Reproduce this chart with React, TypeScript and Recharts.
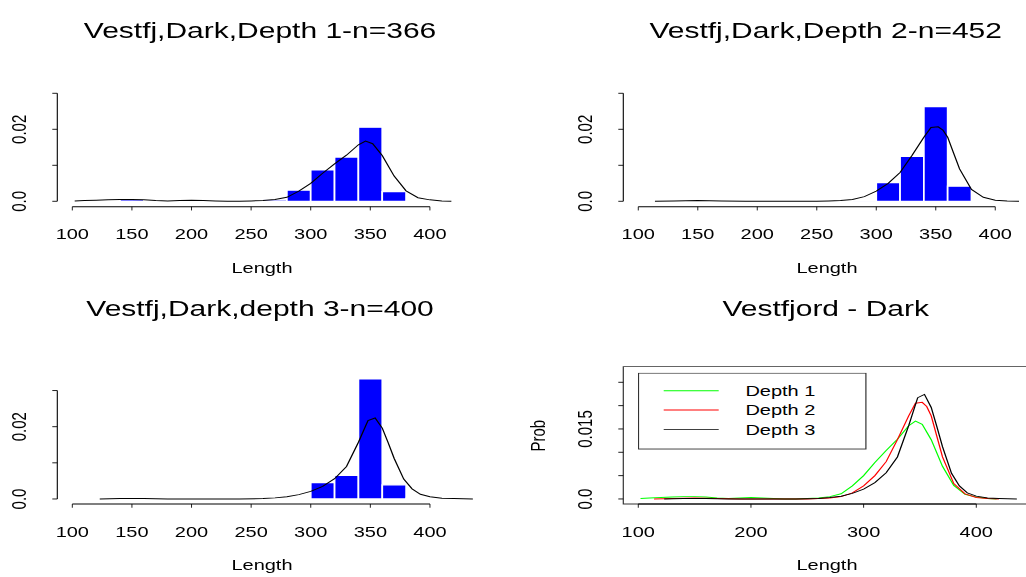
import React from "react";
import {
  ComposedChart,
  Line,
  XAxis,
  YAxis,
  ReferenceArea,
  ReferenceLine,
  Legend,
} from "recharts";

const FONT = '"Liberation Sans", Arial, Helvetica, sans-serif';

// ---------- data ----------
// histogram bins: left edges (width 20) and density per bin
const binStarts = [100, 120, 140, 160, 180, 200, 220, 240, 260, 280, 300, 320, 340, 360, 380];
const binWidth = 20;
const histDepth1 = [0, 0, 0.0005, 0, 0, 0, 0, 0, 0.0004, 0.0031, 0.0087, 0.0123, 0.0206, 0.0027, 0];
const histDepth2 = [0, 0, 0, 0, 0, 0, 0, 0, 0, 0.0003, 0.0052, 0.0125, 0.0263, 0.0042, 0];
const histDepth3 = [0, 0, 0, 0, 0, 0, 0, 0, 0.0002, 0.0002, 0.0045, 0.0065, 0.0332, 0.0039, 0.0002];

// kernel density estimates of length
const densLen1 = [102, 110, 120, 130, 140, 150, 160, 170, 180, 190, 200, 210, 220, 230, 240, 250, 260, 270, 280, 290, 300, 310, 320, 330, 340, 346, 352, 360, 370, 380, 390, 400, 410, 418];
const densVal1 = [0.0001, 0.0002, 0.0003, 0.0004, 0.0005, 0.0005, 0.0004, 0.0002, 0.0001, 0.0002, 0.0003, 0.0002, 0.0001, 0, 0, 0.0001, 0.0002, 0.0005, 0.0011, 0.0028, 0.005, 0.0078, 0.0104, 0.0128, 0.0157, 0.0167, 0.016, 0.0127, 0.007, 0.0029, 0.001, 0.0004, 0.0001, 0];

const densLen2 = [114, 130, 150, 170, 190, 210, 230, 250, 260, 270, 280, 290, 300, 310, 320, 330, 340, 346, 352, 356, 360, 365, 370, 380, 390, 400, 410, 420];
const densVal2 = [0, 0.0001, 0.0002, 0.0001, 0, 0, 0, 0, 0.0001, 0.0002, 0.0005, 0.0013, 0.0028, 0.005, 0.008, 0.0127, 0.0178, 0.0205, 0.0207, 0.0198, 0.0178, 0.0134, 0.009, 0.0033, 0.0011, 0.0003, 0.0001, 0];

const densLen3 = [123, 140, 160, 180, 200, 220, 240, 260, 270, 280, 290, 300, 310, 320, 330, 340, 348, 354, 360, 365, 370, 378, 385, 392, 400, 410, 420, 436];
const densVal3 = [0, 0.0001, 0.0001, 0, 0, 0, 0, 0.0001, 0.0003, 0.0006, 0.0012, 0.0021, 0.0035, 0.0056, 0.009, 0.0157, 0.0217, 0.0224, 0.0196, 0.0155, 0.0112, 0.0055, 0.0028, 0.0013, 0.0006, 0.0002, 0.0001, 0];

// axes
const lengthTicks = [100, 150, 200, 250, 300, 350, 400];
const lengthTicksWide = [100, 200, 300, 400];
const histTicks = [0, 0.01, 0.02, 0.03];
const histTickText = ["0.0", "", "0.02", ""];
const probTicks = [0, 0.005, 0.01, 0.015, 0.02, 0.025];
const probTickText = ["0.0", "", "", "0.015", "", ""];

const titles = [
  "Vestfj,Dark,Depth 1-n=366",
  "Vestfj,Dark,Depth 2-n=452",
  "Vestfj,Dark,depth 3-n=400",
  "Vestfjord - Dark",
];
const depthNames = ["Depth 1", "Depth 2", "Depth 3"];
const depthColors = ["#00ff00", "#ff0000", "#000000"];

// ---------- layout (drawn in an unsquashed 4:3 canvas, then scaled vertically) ----------
const SQUASH = 0.75;
const CW = 1040;
const CH = 577 / SQUASH;
const AXW = 50;
const AXH = 50;
const TICK = 5;

type Rect = { left: number; right: number; top: number; bottom: number };
type Spec = { plot: Rect; x: [number, number]; y: [number, number] };

const p1: Spec = { plot: { left: 57.3, right: 462.8, top: 81.2, bottom: 275.6 }, x: [87.4, 427.6], y: [-0.0015, 0.039] };
const p2: Spec = { plot: { left: 623.3, right: 1028.1, top: 81.2, bottom: 275.6 }, x: [87.4, 427.6], y: [-0.0015, 0.039] };
const p3: Spec = { plot: { left: 57.3, right: 484.8, top: 491.8, bottom: 672 }, x: [87.4, 446], y: [-0.00139, 0.036] };
const p4: Spec = { plot: { left: 623.3, right: 1027, top: 488.9, bottom: 672 }, x: [86.7, 445], y: [-0.00108, 0.02835] };

const centerX = (s: Spec) => (s.plot.left + s.plot.right) / 2;

const marginOf = (r: Rect) => ({
  left: r.left - AXW,
  right: CW - r.right,
  top: r.top,
  bottom: CH - r.bottom - AXH,
});

const toCurve = (len: number[], val: number[]) => len.map((l, i) => ({ len: l, dens: val[i] }));

const XTickLabel = (props: any) => {
  const { x, y, payload } = props;
  // label baseline sits 43.5px under the axis line
  return (
    <text x={x} y={y - TICK + 43.5} textAnchor="middle" fontSize={20} fontFamily={FONT} fill="#000">
      {payload.value}
    </text>
  );
};

const makeYTick = (ticks: number[], texts: string[]) => (props: any) => {
  const { x, y, payload } = props;
  const idx = ticks.findIndex((t) => Math.abs(t - payload.value) < 1e-9);
  const label = idx >= 0 ? texts[idx] : "";
  if (!label) return <g />;
  const bx = x + TICK - 31;
  return (
    <text
      x={bx}
      y={y}
      transform={`rotate(-90 ${bx} ${y})`}
      textAnchor="middle"
      fontSize={20}
      fontFamily={FONT}
      fill="#000"
    >
      {label}
    </text>
  );
};

const axisProps = { tickLine: { stroke: "#000", strokeWidth: 1 }, tickSize: TICK, tickMargin: 0, axisLine: false };

function HistPanel({ spec, hist, curve }: { spec: Spec; hist: number[]; curve: { len: number; dens: number }[] }) {
  return (
    <div style={{ position: "absolute", left: 0, top: 0 }}>
      <ComposedChart width={CW} height={CH} margin={marginOf(spec.plot)}>
        <XAxis
          type="number"
          dataKey="len"
          domain={spec.x}
          allowDataOverflow
          ticks={lengthTicks}
          interval={0}
          height={AXH}
          tick={XTickLabel}
          {...axisProps}
        />
        <YAxis
          type="number"
          domain={spec.y}
          allowDataOverflow
          ticks={histTicks}
          interval={0}
          width={AXW}
          tick={makeYTick(histTicks, histTickText)}
          {...axisProps}
        />
        {binStarts.map((b, i) =>
          hist[i] > 0 ? (
            <ReferenceArea
              key={b}
              x1={b}
              x2={b + binWidth}
              y1={0}
              y2={hist[i]}
              fill="#0000ff"
              fillOpacity={1}
              stroke="#ffffff"
              strokeWidth={1.7}
              ifOverflow="visible"
            />
          ) : null
        )}
        <ReferenceLine
          segment={[{ x: spec.x[0], y: 0 }, { x: spec.x[0], y: 0.03 }]}
          stroke="#000"
          strokeWidth={1.1}
          ifOverflow="visible"
        />
        <ReferenceLine
          segment={[{ x: 100, y: spec.y[0] }, { x: 400, y: spec.y[0] }]}
          stroke="#000"
          strokeWidth={1.2}
          ifOverflow="visible"
        />
        <Line
          data={curve}
          dataKey="dens"
          type="linear"
          stroke="#000"
          strokeWidth={1.3}
          dot={false}
          isAnimationActive={false}
        />
      </ComposedChart>
    </div>
  );
}

const LegendBox = (props: any) => {
  const items = props.payload || [];
  return (
    <svg width={229} height={103} style={{ display: "block" }}>
      <rect x={0.5} y={0.5} width={227.4} height={101.2} fill="#fff" stroke="#333" strokeWidth={1.2} />
      {items.map((it: any, i: number) => {
        const cy = 24 + i * 25.75;
        return (
          <g key={it.value}>
            <line x1={25.7} x2={80.7} y1={cy} y2={cy} stroke={it.color} strokeWidth={1.3} />
            <text x={107.4} y={cy + 7.2} fontSize={20} fontFamily={FONT} fill="#000">
              {it.value}
            </text>
          </g>
        );
      })}
    </svg>
  );
};

function ComparePanel() {
  const curves = [toCurve(densLen1, densVal1), toCurve(densLen2, densVal2), toCurve(densLen3, densVal3)];
  return (
    <div style={{ position: "absolute", left: 0, top: 0 }}>
      <ComposedChart width={CW} height={CH} margin={marginOf(p4.plot)}>
        <XAxis
          type="number"
          dataKey="len"
          domain={p4.x}
          allowDataOverflow
          ticks={lengthTicksWide}
          interval={0}
          height={AXH}
          tick={XTickLabel}
          {...axisProps}
        />
        <YAxis
          type="number"
          domain={p4.y}
          allowDataOverflow
          ticks={probTicks}
          interval={0}
          width={AXW}
          tick={makeYTick(probTicks, probTickText)}
          {...axisProps}
        />
        <ReferenceArea
          x1={p4.x[0]}
          x2={p4.x[1]}
          y1={p4.y[0]}
          y2={p4.y[1]}
          fill="none"
          stroke="#333"
          strokeWidth={1.2}
          ifOverflow="visible"
        />
        <ReferenceLine
          segment={[{ x: 100, y: p4.y[0] }, { x: 400, y: p4.y[0] }]}
          stroke="#000"
          strokeWidth={1.3}
          ifOverflow="visible"
        />
        {curves.map((c, i) => (
          <Line
            key={depthNames[i]}
            name={depthNames[i]}
            data={c}
            dataKey="dens"
            type="linear"
            stroke={depthColors[i]}
            strokeWidth={1.3}
            dot={false}
            isAnimationActive={false}
          />
        ))}
        <Legend
          layout="horizontal"
          verticalAlign="middle"
          align="center"
          content={LegendBox}
          wrapperStyle={{ left: 638.3, top: 496.9, width: 229, height: 103, bottom: "auto", right: "auto" }}
        />
      </ComposedChart>
    </div>
  );
}

const txt = { fontFamily: FONT, fill: "#000" } as const;
const TITLE_SIZE = 30;

export default function App() {
  return (
    <div
      style={{
        position: "absolute",
        left: 0,
        top: 0,
        width: 1026,
        height: 577,
        overflow: "hidden",
        background: "#fff",
      }}
    >
      <div
        style={{
          position: "relative",
          width: CW,
          height: CH,
          transform: `scale(1, ${SQUASH})`,
          transformOrigin: "0 0",
        }}
      >
        <HistPanel spec={p1} hist={histDepth1} curve={toCurve(densLen1, densVal1)} />
        <HistPanel spec={p2} hist={histDepth2} curve={toCurve(densLen2, densVal2)} />
        <HistPanel spec={p3} hist={histDepth3} curve={toCurve(densLen3, densVal3)} />
        <ComparePanel />
        <svg width={CW} height={CH} style={{ position: "absolute", left: 0, top: 0, pointerEvents: "none" }}>
          <text x={centerX(p1)} y={50.7} textAnchor="middle" fontSize={TITLE_SIZE} {...txt}>{titles[0]}</text>
          <text x={centerX(p2)} y={50.7} textAnchor="middle" fontSize={TITLE_SIZE} {...txt}>{titles[1]}</text>
          <text x={centerX(p1)} y={421} textAnchor="middle" fontSize={TITLE_SIZE} {...txt}>{titles[2]}</text>
          <text x={centerX(p2)} y={421} textAnchor="middle" fontSize={TITLE_SIZE} {...txt}>{titles[3]}</text>
          <text x={262} y={364.4} textAnchor="middle" fontSize={20} {...txt}>Length</text>
          <text x={827} y={364.4} textAnchor="middle" fontSize={20} {...txt}>Length</text>
          <text x={262} y={760.5} textAnchor="middle" fontSize={20} {...txt}>Length</text>
          <text x={827} y={760.5} textAnchor="middle" fontSize={20} {...txt}>Length</text>
          <text x={545} y={581} transform="rotate(-90 545 581)" textAnchor="middle" fontSize={20} {...txt}>Prob</text>
        </svg>
      </div>
    </div>
  );
}
